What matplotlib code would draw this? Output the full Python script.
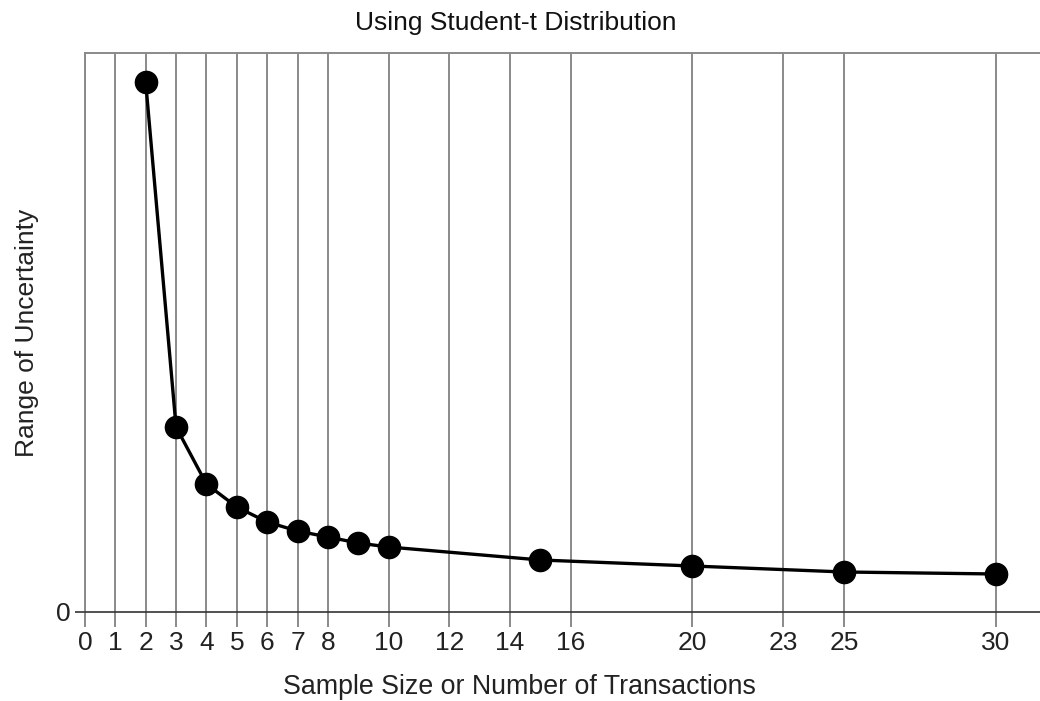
import matplotlib.pyplot as plt

plt.rcParams["font.family"] = ["Liberation Sans", "DejaVu Sans"]

# sample sizes and read-off uncertainty range (arbitrary units)
sample_size = [2, 3, 4, 5, 6, 7, 8, 9, 10, 15, 20, 25, 30]
uncertainty = [530, 185, 128, 105, 90, 81, 75, 69, 65, 52, 46, 40, 38]

x_ticks = [0, 1, 2, 3, 4, 5, 6, 7, 8, 10, 12, 14, 16, 20, 23, 25, 30]

grid_color = "#8a8a8a"

fig = plt.figure(figsize=(10.4, 7.01), dpi=100)
ax = fig.add_axes([0.0817, 0.127, 0.9183, 0.797])

ax.plot(sample_size, uncertainty, color="black", lw=2.4, marker="o",
        markersize=16, zorder=3, clip_on=False)

ax.set_xlim(0, 31.45)
ax.set_ylim(0, 559)

ax.set_xticks(x_ticks)
ax.set_yticks([0])
ax.grid(axis="x", color=grid_color, lw=1.4)

ax.tick_params(axis="x", length=11, width=1.4, color=grid_color, pad=3,
               labelsize=19, labelcolor="#222222")
ax.tick_params(axis="y", length=7.5, width=1.2, color="#333333", pad=3,
               labelsize=19, labelcolor="#222222")

ax.spines["right"].set_visible(False)
ax.spines["top"].set_color(grid_color)
ax.spines["top"].set_linewidth(1.4)
ax.spines["left"].set_color(grid_color)
ax.spines["left"].set_linewidth(1.4)
ax.spines["bottom"].set_color("#333333")
ax.spines["bottom"].set_linewidth(1.2)

ax.set_xlabel("Sample Size or Number of Transactions", fontsize=19.3,
              color="#222222")
ax.xaxis.set_label_coords(0.455, -0.111)
ax.set_ylabel("Range of Uncertainty", fontsize=19, color="#222222",
              labelpad=12)
ax.set_title("Using Student-t Distribution", fontsize=19, color="#111111",
             x=0.451, pad=17)

fig.savefig("out.png", dpi=100)
